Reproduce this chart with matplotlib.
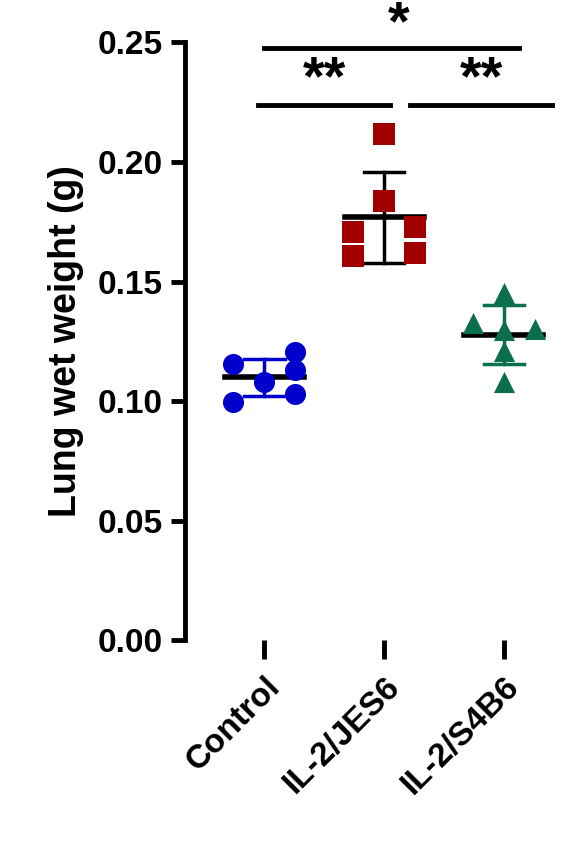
import matplotlib
matplotlib.use("Agg")
import matplotlib.pyplot as plt
import numpy as np

plt.rcParams['font.family'] = ['Liberation Sans', 'DejaVu Sans']

categories = ["Control", "IL-2/JES6", "IL-2/S4B6"]
control = [0.1154, 0.0996, 0.108, 0.1204, 0.113, 0.103]
jes6 = [0.2115, 0.1835, 0.1706, 0.1727, 0.1606, 0.1618]
s4b6 = [0.145, 0.1325, 0.130, 0.1296, 0.121, 0.108]
offsets_c = [-1, -1, 0, 1, 1, 1]
offsets_j = [0, 0, -1, 1, -1, 1]
offsets_s = [0, -1, 1, 0, 0, 0]
colors = ["#0000CC", "#A00000", "#0B6E4F"]
markers = ["o", "s", "^"]

fig = plt.figure(figsize=(5.86, 8.49), dpi=100)
ax = fig.add_axes([0.316, 0.246, 0.64, 0.704])
groups = [control, jes6, s4b6]
offs = [offsets_c, offsets_j, offsets_s]
for i, (g, o) in enumerate(zip(groups, offs)):
    x = i + np.array(o) * 0.26
    ax.scatter(x, g, s=230, marker=markers[i], color=colors[i], zorder=3, linewidths=0)
    m, sd = np.mean(g), np.std(g, ddof=1)
    ec = colors[i] if i != 1 else "black"
    ax.plot([i - 0.33, i + 0.33], [m, m], color="black", lw=4, zorder=2)
    ax.plot([i, i], [m - sd, m + sd], color=ec, lw=2.5, zorder=2)
    for v in (m - sd, m + sd):
        ax.plot([i - 0.17, i + 0.17], [v, v], color=ec, lw=2.5, zorder=2)

ax.set_xlim(-0.66, 2.47)
ax.set_ylim(0, 0.25)
ax.set_yticks([0, 0.05, 0.10, 0.15, 0.20, 0.25])
ax.set_yticklabels(["0.00", "0.05", "0.10", "0.15", "0.20", "0.25"])
ax.set_xticks(range(3))
ax.set_xticklabels(categories, rotation=45, ha="right", rotation_mode="anchor")
for s in ["top", "right", "bottom"]:
    ax.spines[s].set_visible(False)
ax.spines["left"].set_linewidth(3.5)
ax.tick_params(axis="y", width=3.5, length=10, labelsize=24, pad=6)
ax.tick_params(axis="x", width=3.5, length=14, labelsize=24, pad=8)
for t in ax.get_xticklabels() + ax.get_yticklabels():
    t.set_fontweight("bold")
ax.set_ylabel("Lung wet weight (g)", fontsize=27, fontweight="bold", labelpad=10)

# significance
ax.plot([0.0, 2.13], [0.2475, 0.2475], color="black", lw=3.5, clip_on=False)
ax.text(1.12, 0.2465, "*", ha="center", va="bottom", fontsize=40, fontweight="bold")
ax.plot([-0.05, 1.05], [0.224, 0.224], color="black", lw=3.5, clip_on=False)
ax.text(0.5, 0.2235, "**", ha="center", va="bottom", fontsize=40, fontweight="bold")
ax.plot([1.22, 2.4], [0.224, 0.224], color="black", lw=3.5, clip_on=False)
ax.text(1.81, 0.2235, "**", ha="center", va="bottom", fontsize=40, fontweight="bold")

fig.savefig("out.png", dpi=100)
